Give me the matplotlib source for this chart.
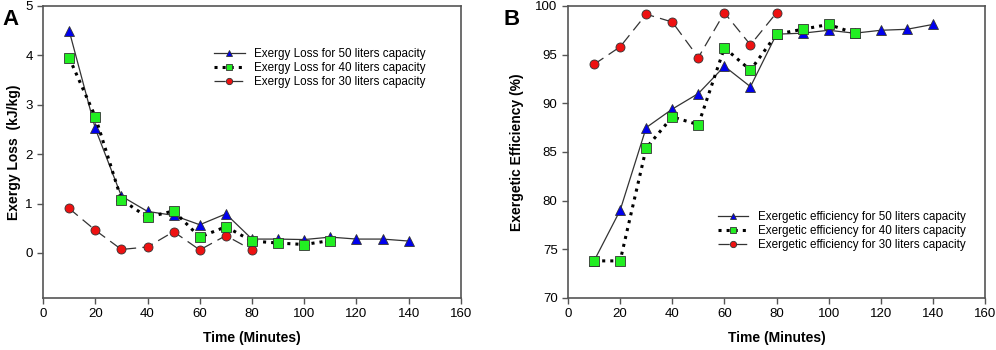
import matplotlib
matplotlib.use("Agg")
import matplotlib.pyplot as plt

plt.rcParams['font.family'] = ['Liberation Sans', 'DejaVu Sans']

time_50 = [10, 20, 30, 40, 50, 60, 70, 80, 90, 100, 110, 120, 130, 140]
time_40 = [10, 20, 30, 40, 50, 60, 70, 80, 90, 100, 110]
time_30 = [10, 20, 30, 40, 50, 60, 70, 80]

loss_50 = [4.5, 2.52, 1.15, 0.84, 0.76, 0.57, 0.79, 0.28, 0.28, 0.27, 0.32, 0.28, 0.28, 0.24]
loss_40 = [3.95, 2.76, 1.08, 0.72, 0.85, 0.32, 0.53, 0.24, 0.2, 0.17, 0.25]
loss_30 = [0.9, 0.46, 0.07, 0.12, 0.43, 0.06, 0.35, 0.06]

eff_50 = [73.8, 79.0, 87.5, 89.4, 91.0, 93.8, 91.7, 97.1, 97.2, 97.5, 97.2, 97.5, 97.6, 98.1]
eff_40 = [73.8, 73.8, 85.4, 88.6, 87.8, 95.7, 93.4, 97.1, 97.6, 98.1, 97.2]
eff_30 = [94.0, 95.8, 99.15, 98.35, 94.7, 99.3, 96.0, 99.3]

fig = plt.figure(figsize=(9.96, 3.5), dpi=100)
ax1 = fig.add_axes([0.0432, 0.149, 0.4196, 0.834])
ax2 = fig.add_axes([0.5703, 0.149, 0.4187, 0.834])

def draw(ax, y50, y40, y30, prefix):
    ax.plot(time_50, y50, '-', color='#333333', lw=0.9, marker='^', ms=6.5,
            mfc='#0000ee', mec='#333333', mew=0.6, label=prefix + ' for 50 liters capacity', zorder=3)
    ax.plot(time_40, y40, ':', color='black', lw=2.2, marker='s', ms=6.5,
            mfc='#22ee22', mec='#333333', mew=0.6, label=prefix + ' for 40 liters capacity', zorder=4)
    ax.plot(time_30, y30, '--', color='#333333', lw=0.9, dashes=(9, 5), marker='o', ms=6.5,
            mfc='#ee1111', mec='#333333', mew=0.6, label=prefix + ' for 30 liters capacity', zorder=2)
    ax.set_xlim(0, 160)
    ax.set_xticks(range(0, 161, 20))
    for s in ax.spines.values():
        s.set_color('#555555')
        s.set_linewidth(1.2)
    ax.tick_params(direction='out', length=4, width=1, colors='#555555', labelcolor='black', labelsize=9.5)
    ax.set_xlabel('Time (Minutes)', fontsize=10, fontweight='bold', labelpad=8)

draw(ax1, loss_50, loss_40, loss_30, 'Exergy Loss')
ax1.set_ylim(-0.91, 5)
ax1.set_yticks(range(0, 6))
ax1.set_ylabel('Exergy Loss  (kJ/kg)', fontsize=10, fontweight='bold', labelpad=3)
ax1.legend(loc='upper left', bbox_to_anchor=(0.39, 0.885), frameon=False, fontsize=8.4,
           handlelength=2.6, handletextpad=0.8, labelspacing=0.18, borderpad=0.2, markerscale=0.7)

draw(ax2, eff_50, eff_40, eff_30, 'Exergetic efficiency')
ax2.set_ylim(70, 100)
ax2.set_yticks(range(70, 101, 5))
ax2.set_ylabel('Exergetic Efficiency (%)', fontsize=10, fontweight='bold', labelpad=8)
ax2.legend(loc='upper left', bbox_to_anchor=(0.34, 0.325), frameon=False, fontsize=8.4,
           handlelength=2.6, handletextpad=0.8, labelspacing=0.18, borderpad=0.2, markerscale=0.7)

fig.text(0.002, 0.975, 'A', fontsize=16, fontweight='bold', va='top', ha='left')
fig.text(0.506, 0.975, 'B', fontsize=16, fontweight='bold', va='top', ha='left')

fig.savefig('out.png', dpi=100)
